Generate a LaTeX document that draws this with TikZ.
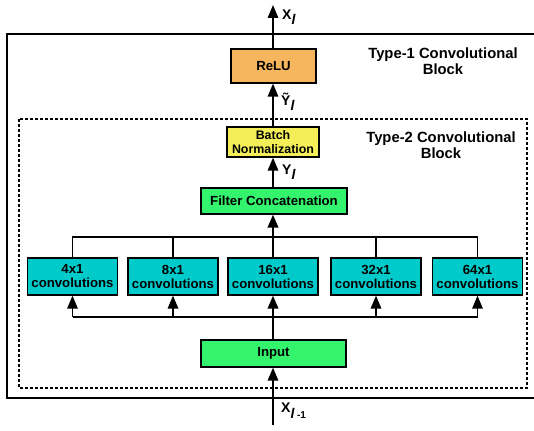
\documentclass[tikz,border=0pt]{standalone}
\usepackage{fontspec}
\setmainfont{Liberation Sans}
\usetikzlibrary{arrows.meta}
\definecolor{reluc}{HTML}{F5B65E}
\definecolor{bnc}{HTML}{F4EF58}
\definecolor{grc}{HTML}{33F46C}
\definecolor{cyc}{HTML}{00CACA}
\begin{document}
\begin{tikzpicture}[x=1pt,y=-1pt,
  box/.style={draw, line width=1.3pt, inner sep=0pt, align=center,
    font=\bfseries\fontsize{13.2}{14}\selectfont},
  conv/.style={box, fill=cyc, minimum width=90pt, minimum height=37pt},
  arr/.style={-{Triangle[width=10.5pt,length=13pt]}, line width=1.5pt},
  thickarr/.style={-{Triangle[width=10.5pt,length=13pt]}, line width=2.2pt},
  bus/.style={line width=1.2pt},
  lab/.style={font=\bfseries\fontsize{14}{16}\selectfont, inner sep=0pt, anchor=west},
  title/.style={font=\bfseries\fontsize{14.8}{16}\selectfont, align=center, inner sep=0pt}]
\useasboundingbox (0,0) rectangle (534,430);
% outer and inner blocks
\draw[line width=1.3pt] (534,34) -- (7,34) -- (7,398) -- (534,398);
\draw[line width=1.3pt, dash pattern=on 3pt off 2pt] (19,119) rectangle (527,388);
\node[title] (t1) at (443,61) {Type-1 Convolutional\\Block};
\node[title] (t2) at (441,145) {Type-2 Convolutional\\Block};
% nodes
\node[box, fill=reluc, minimum width=85pt, minimum height=34pt] (relu) at (273.5,66) {ReLU};
\node[box, fill=bnc, minimum width=92pt, minimum height=30pt, font=\bfseries\fontsize{12.4}{13.5}\selectfont] (bn) at (273,142) {Batch\\Normalization};
\node[box, fill=grc, minimum width=146pt, minimum height=26pt] (fc) at (274,201) {Filter Concatenation};
\node[conv] (c4) at (72.5,276.5) {4x1\\convolutions};
\node[conv] (c8) at (173,276.5) {8x1\\convolutions};
\node[conv] (c16) at (273,276.5) {16x1\\convolutions};
\node[conv] (c32) at (376,276.5) {32x1\\convolutions};
\node[conv] (c64) at (477.5,276.5) {64x1\\convolutions};
\node[box, fill=grc, minimum width=145pt, minimum height=27pt] (input) at (273.5,353.5) {Input};
% coordinates
\coordinate (top) at (273,5);
\coordinate (bot) at (273,425);
\coordinate (tb) at (273,237);
\coordinate (bb) at (273,317);
% connectors
\draw[arr] (relu.north -| top) -- (top);
\draw[arr] (bn.north -| top) -- (relu.south -| top);
\draw[arr] (fc.north -| top) -- (bn.south -| top);
\draw[bus] (c4.north) -- (c4.north |- tb) -- (c64.north |- tb) -- (c64.north);
\draw[bus] (c8.north) -- (c8.north |- tb);
\draw[bus] (c32.north) -- (c32.north |- tb);
\draw[thickarr] (c16.north) -- (fc.south -| c16);
\draw[bus] (c4.south |- bb) -- (c64.south |- bb);
\draw[arr] (c4.south |- bb) -- (c4.south);
\draw[arr] (c8.south |- bb) -- (c8.south);
\draw[arr] (c32.south |- bb) -- (c32.south);
\draw[arr] (c64.south |- bb) -- (c64.south);
\draw[thickarr] (input.north -| c16) -- (c16.south);
\draw[arr] (bot) -- (input.south -| bot);
% labels
\node[lab] (xl) at (282,17) {X\raisebox{-5pt}{\textit{l}}};
\node[lab] (yt) at (281,102) {\~{Y}\raisebox{-5pt}{\textit{l}}};
\node[lab] (yl) at (282,172) {Y\raisebox{-5pt}{\textit{l}}};
\node[lab] (xl1) at (281,411) {X\raisebox{-6pt}{\textit{l}\,{\fontsize{10}{11}\selectfont -1}}};
\end{tikzpicture}
\end{document}
